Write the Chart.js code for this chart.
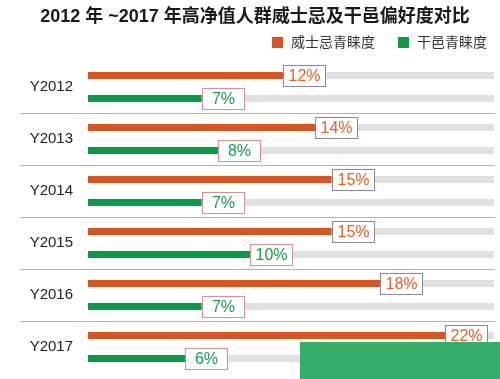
<!DOCTYPE html>
<html>
<head>
<meta charset="utf-8">
<script src="https://cdn.jsdelivr.net/npm/chart.js@4"></script>
<style>
html,body{margin:0;padding:0;background:#fff;}
#wrap{width:500px;height:379px;}
</style>
</head>
<body>
<div id="wrap"><canvas id="c" width="500" height="379"></canvas></div>
<script>
const titleText = '2012 年 ~2017 年高净值人群威士忌及干邑偏好度对比';
const categories = ['Y2012','Y2013','Y2014','Y2015','Y2016','Y2017'];
const whiskyName = '威士忌青睐度';
const cognacName = '干邑青睐度';
const whiskyValues = [12, 14, 15, 15, 18, 22];
const cognacValues = [7, 8, 7, 10, 7, 6];
const trackMax = 25;
const trackValues = categories.map(() => trackMax);

const ORANGE = '#d9541e';
const ORANGE_TEXT = '#ec5f24';
const GREEN = '#0b9a48';
const GREEN_TEXT = '#13a04e';
const TRACK = '#e1e1e1';
const FONT = '"Liberation Sans", Arial, "Noto Sans CJK SC", sans-serif';

const separatorPlugin = {
  id: 'separators',
  beforeDatasetsDraw(chart) {
    const y = chart.scales.y;
    const ctx = chart.ctx;
    ctx.save();
    ctx.strokeStyle = '#b4b4b4';
    ctx.lineWidth = 1;
    for (let i = 1; i < categories.length; i++) {
      const py = Math.round((y.getPixelForTick(i - 1) + y.getPixelForTick(i)) / 2) + 0.5;
      ctx.beginPath();
      ctx.moveTo(20, py);
      ctx.lineTo(495, py);
      ctx.stroke();
    }
    ctx.restore();
  }
};

const labelPlugin = {
  id: 'valueBoxes',
  afterDatasetsDraw(chart) {
    const ctx = chart.ctx;
    ctx.save();
    ctx.font = '16px ' + FONT;
    ctx.textAlign = 'center';
    ctx.textBaseline = 'middle';
    [0, 1].forEach(di => {
      const meta = chart.getDatasetMeta(di);
      const vals = chart.data.datasets[di].data;
      const isW = di === 0;
      meta.data.forEach((bar, i) => {
        const w = 42, h = 21;
        const x = Math.round(bar.x) + 0.5;
        const y = Math.round(bar.y - h / 2) + 0.5;
        ctx.fillStyle = '#ffffff';
        ctx.fillRect(x, y, w, h);
        ctx.strokeStyle = isW ? '#8a8a8a' : '#dc8f8f';
        ctx.lineWidth = 1;
        ctx.strokeRect(x, y, w, h);
        ctx.fillStyle = isW ? ORANGE_TEXT : GREEN_TEXT;
        ctx.fillText(vals[i] + '%', x + w / 2, y + h / 2 + 1);
      });
    });
    ctx.restore();
  }
};

const legendPlugin = {
  id: 'customLegend',
  afterDraw(chart) {
    const ctx = chart.ctx;
    ctx.save();
    ctx.font = '14px ' + FONT;
    ctx.textBaseline = 'middle';
    ctx.textAlign = 'left';
    const items = [
      { x: 272, color: chart.data.datasets[0].backgroundColor, label: chart.data.datasets[0].label },
      { x: 398, color: chart.data.datasets[1].backgroundColor, label: chart.data.datasets[1].label }
    ];
    items.forEach(it => {
      ctx.fillStyle = it.color;
      ctx.fillRect(it.x, 37, 11, 11);
      ctx.fillStyle = '#333';
      ctx.fillText(it.label, it.x + 19, 43);
    });
    ctx.restore();
  }
};

const overlayPlugin = {
  id: 'overlay',
  afterDraw(chart) {
    const ctx = chart.ctx;
    ctx.save();
    ctx.fillStyle = '#35ae6a';
    ctx.fillRect(300, 342, 200, 37);
    ctx.restore();
  }
};

new Chart(document.getElementById('c'), {
  type: 'bar',
  data: {
    labels: categories,
    datasets: [
      { label: whiskyName, data: whiskyValues, backgroundColor: ORANGE, stack: 'w', order: 1,
        categoryPercentage: 0.885, barPercentage: 0.31 },
      { label: cognacName, data: cognacValues, backgroundColor: GREEN, stack: 'c', order: 1,
        categoryPercentage: 0.885, barPercentage: 0.31 },
      { label: 'trackW', data: trackValues, backgroundColor: TRACK, stack: 'w', order: 2,
        categoryPercentage: 0.885, barPercentage: 0.31 },
      { label: 'trackC', data: trackValues, backgroundColor: TRACK, stack: 'c', order: 2,
        categoryPercentage: 0.885, barPercentage: 0.31 }
    ]
  },
  options: {
    indexAxis: 'y',
    responsive: false,
    animation: false,
    devicePixelRatio: 1,
    layout: { padding: { left: 16, right: 6, top: 0, bottom: 6 } },
    scales: {
      x: { display: false, min: 0, max: trackMax, stacked: false },
      y: {
        grid: { display: false, drawTicks: false },
        border: { display: false },
        ticks: { padding: 15, color: '#222', font: { family: FONT, size: 15 } },
        afterFit(scale) { scale.width = 72; scale.paddingTop = 0; scale.paddingBottom = 0; }
      }
    },
    plugins: {
      title: {
        display: true,
        text: titleText,
        color: '#1a1a1a',
        font: { family: FONT, size: 18, weight: 'bold' },
        padding: { top: 6, bottom: 33.4 }
      },
      legend: { display: false },
      tooltip: { enabled: false }
    }
  },
  plugins: [separatorPlugin, labelPlugin, legendPlugin, overlayPlugin]
});
</script>
</body>
</html>
